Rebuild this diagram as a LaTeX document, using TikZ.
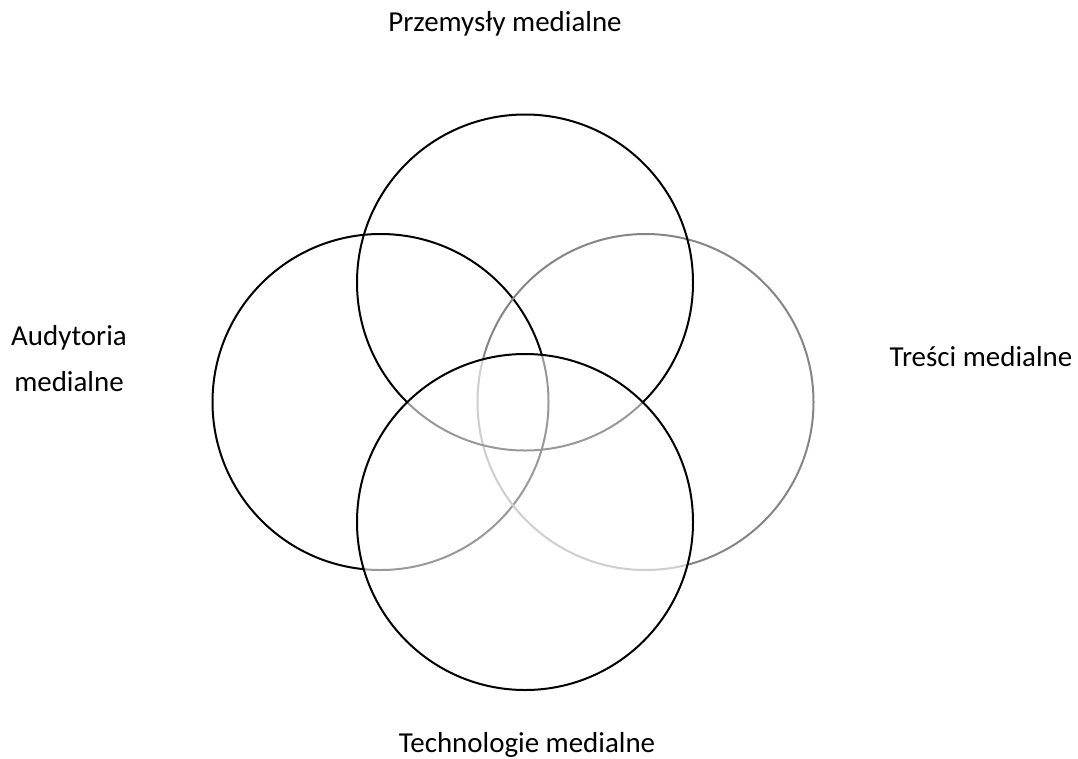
\documentclass[tikz,border=0pt]{standalone}
\usepackage{fontspec}
\setmainfont{Carlito}
\usepackage{tikz}
\usetikzlibrary{shapes.geometric}

\begin{document}
\begin{tikzpicture}[x=0.75pt,y=-0.75pt]
\tikzstyle{ring}=[circle, draw, line width=1.5pt, minimum size=252pt, inner sep=0pt]
\tikzstyle{label}=[anchor=base, inner sep=0pt, font=\fontsize{21.7}{26}\selectfont]

\useasboundingbox (0,0) rectangle (1078,758);

    \node[ring] (aud) at (380.5,402) {};
 \node[ring, draw=black!48] (tre) at (645.5,402) {};
 \node[ring] (prz) at (525,282.5) {};
 \node[ring, fill=white, fill opacity=0.6] (tech) at (525,522) {};

\node[label] (lprz) at (505,31) {Przemysły medialne};
\node[label] (laud1) at (69,345) {Audytoria};
\node[label] (laud2) at (69,391) {medialne};
\node[label] (ltre) at (981,366) {Treści medialne};
\node[label] (ltech) at (527,752) {Technologie medialne};

\end{tikzpicture}
\end{document}
